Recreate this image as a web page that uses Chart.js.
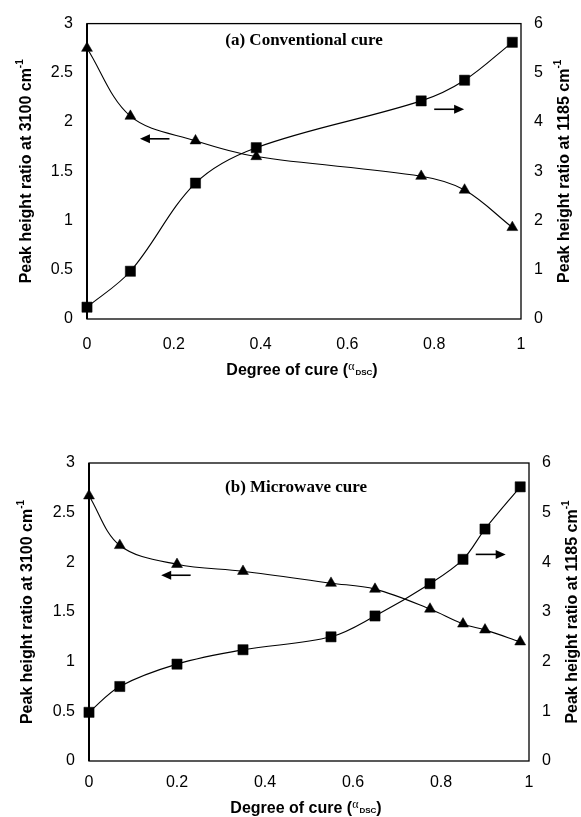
<!DOCTYPE html>
<html>
<head>
<meta charset="utf-8">
<script src="https://cdn.jsdelivr.net/npm/chart.js@4.4.1/dist/chart.umd.min.js"></script>
<style>
  body { margin: 0; background: #fff; width: 581px; height: 817px; position: relative; overflow: hidden; }
  canvas { position: absolute; left: 0; }
  #chartA { top: 0; }
  #chartB { top: 420px; }
</style>
</head>
<body>
<canvas id="chartA" width="581" height="385"></canvas>
<canvas id="chartB" width="581" height="397"></canvas>
<script>
// (a) conventional cure
const convCure = [0, 0.1, 0.25, 0.39, 0.77, 0.87, 0.98];
const convRatio3100 = [2.75, 2.06, 1.81, 1.65, 1.45, 1.31, 0.93];
const convRatio1185 = [0.24, 0.97, 2.76, 3.48, 4.43, 4.85, 5.62];

// (b) microwave cure
const mwCure = [0, 0.07, 0.2, 0.35, 0.55, 0.65, 0.775, 0.85, 0.9, 0.98];
const mwRatio3100 = [2.67, 2.17, 1.98, 1.91, 1.79, 1.73, 1.53, 1.38, 1.32, 1.2];
const mwRatio1185 = [0.98, 1.5, 1.95, 2.24, 2.5, 2.92, 3.57, 4.06, 4.67, 5.52];

// tick labels
const xTicks = [0, 0.2, 0.4, 0.6, 0.8, 1];
const leftTicks = [0, 0.5, 1, 1.5, 2, 2.5, 3];
const rightTicks = [0, 1, 2, 3, 4, 5, 6];

// arrows showing which axis a curve belongs to (data coords)
const convArrows = [
  { from: 0.19, to: 0.122, at: 1.83, axis: 'y' },
  { from: 0.80, to: 0.869, at: 4.26, axis: 'y2' }
];
const mwArrows = [
  { from: 0.231, to: 0.164, at: 1.87, axis: 'y' },
  { from: 0.879, to: 0.947, at: 4.16, axis: 'y2' }
];

const SANS = 'Liberation Sans, Arial, sans-serif';
const SERIF = 'Liberation Serif, Times New Roman, serif';

// draw a run of text pieces (for superscripts / subscripts) centred on x,y
function richText(ctx, parts, x, y, angle) {
  ctx.save();
  ctx.translate(x, y);
  ctx.rotate(angle || 0);
  ctx.textBaseline = 'alphabetic';
  ctx.textAlign = 'left';
  let total = 0;
  parts.forEach(p => { ctx.font = p.font; total += ctx.measureText(p.t).width + (p.gap || 0); });
  let cx = -total / 2;
  parts.forEach(p => {
    ctx.font = p.font;
    ctx.fillText(p.t, cx, 6 + (p.dy || 0));
    cx += ctx.measureText(p.t).width + (p.gap || 0);
  });
  ctx.restore();
}

const decor = {
  id: 'decor',
  beforeDatasetsDraw(chart, args, o) {
    const { ctx, chartArea: a } = chart;
    ctx.save();
    ctx.strokeStyle = '#000';
    ctx.lineWidth = 1.3;
    ctx.strokeRect(a.left, a.top, a.right - a.left, a.bottom - a.top);
    ctx.lineWidth = 2;
    ctx.beginPath();
    ctx.moveTo(a.left, a.top);
    ctx.lineTo(a.left, a.bottom);
    ctx.stroke();
    ctx.restore();
  },
  afterDraw(chart, args, o) {
    const { ctx, chartArea: a, scales } = chart;
    ctx.save();
    ctx.fillStyle = '#000';
    ctx.strokeStyle = '#000';

    // panel label
    ctx.font = 'bold 17px ' + SERIF;
    ctx.textAlign = 'center';
    ctx.textBaseline = 'middle';
    ctx.fillText(o.label, o.labelX, o.labelY);

    // arrows
    o.arrows.forEach(ar => {
      const x0 = scales.x.getPixelForValue(ar.from);
      const x1 = scales.x.getPixelForValue(ar.to);
      const y = scales[ar.axis].getPixelForValue(ar.at);
      const dir = Math.sign(x1 - x0);
      ctx.lineWidth = 1.6;
      ctx.beginPath();
      ctx.moveTo(x0, y);
      ctx.lineTo(x1 - dir * 8, y);
      ctx.stroke();
      ctx.beginPath();
      ctx.moveTo(x1, y);
      ctx.lineTo(x1 - dir * 10, y - 4.5);
      ctx.lineTo(x1 - dir * 10, y + 4.5);
      ctx.closePath();
      ctx.fill();
    });

    // axis titles
    const midY = (a.top + a.bottom) / 2;
    const bold16 = 'bold 16px ' + SANS;
    const sup = 'bold 10px ' + SANS;
    richText(ctx, [{ t: 'Peak height ratio at 3100 cm', font: bold16 }, { t: '-1', font: sup, dy: -8 }],
      o.leftTitleX, midY, -Math.PI / 2);
    richText(ctx, [{ t: 'Peak height ratio at 1185 cm', font: bold16 }, { t: '-1', font: sup, dy: -8 }],
      o.rightTitleX, midY, -Math.PI / 2);
    richText(ctx, [
      { t: 'Degree of cure (', font: bold16 },
      { t: 'α', font: '12px ' + SERIF, dy: -5, gap: 1 },
      { t: 'DSC', font: 'bold 8px ' + SANS },
      { t: ')', font: bold16 }
    ], o.xTitleX, o.xTitleY, 0);
    ctx.restore();
  }
};

function tickFont() { return { family: SANS, size: 16 }; }

function makeChart(id, cure, r3100, r1185, lay) {
  const pts = (xs, ys) => xs.map((x, i) => ({ x: x, y: ys[i] }));
  return new Chart(document.getElementById(id), {
    type: 'line',
    data: {
      datasets: [
        {
          label: '3100',
          data: pts(cure, r3100),
          yAxisID: 'y',
          borderColor: '#000',
          backgroundColor: '#000',
          borderWidth: 1.1,
          pointStyle: 'triangle',
          pointRadius: 6.3,
          pointBorderWidth: 0.5,
          tension: 0.35,
          clip: false
        },
        {
          label: '1185',
          data: pts(cure, r1185),
          yAxisID: 'y2',
          borderColor: '#000',
          backgroundColor: '#000',
          borderWidth: 1.1,
          pointStyle: 'rect',
          pointRadius: 7.2,
          pointBorderWidth: 0.5,
          tension: 0.35,
          clip: false
        }
      ]
    },
    options: {
      responsive: false,
      animation: false,
      events: [],
      layout: { padding: { top: lay.top, left: 0, right: 0, bottom: 0 } },
      plugins: {
        legend: { display: false },
        tooltip: { enabled: false },
        decor: lay.decor
      },
      scales: {
        x: {
          type: 'linear', min: 0, max: 1,
          afterBuildTicks: s => { s.ticks = xTicks.map(v => ({ value: v })); },
          afterFit: s => { s.height = lay.xHeight; },
          grid: { display: false, drawTicks: false },
          border: { display: false },
          ticks: { padding: lay.xPad, font: tickFont(), color: '#000', maxRotation: 0, autoSkip: false,
                   callback: v => String(v) }
        },
        y: {
          position: 'left', min: 0, max: 3,
          afterBuildTicks: s => { s.ticks = leftTicks.map(v => ({ value: v })); },
          afterFit: s => { s.width = lay.leftW; },
          grid: { display: false, drawTicks: false },
          border: { display: false },
          ticks: { padding: 14, font: tickFont(), color: '#000', callback: v => String(v) }
        },
        y2: {
          position: 'right', min: 0, max: 6,
          afterBuildTicks: s => { s.ticks = rightTicks.map(v => ({ value: v })); },
          afterFit: s => { s.width = lay.rightW; },
          grid: { display: false, drawTicks: false },
          border: { display: false },
          ticks: { padding: 13, font: tickFont(), color: '#000', callback: v => String(v) }
        }
      }
    },
    plugins: [decor]
  });
}

makeChart('chartA', convCure, convRatio3100, convRatio1185, {
  top: 20, xHeight: 66, xPad: 16, leftW: 87, rightW: 60,
  decor: { label: '(a) Conventional cure', labelX: 304, labelY: 41, arrows: convArrows,
           leftTitleX: 25, rightTitleX: 563, xTitleX: 302, xTitleY: 369 }
});

makeChart('chartB', mwCure, mwRatio3100, mwRatio1185, {
  top: 43, xHeight: 56, xPad: 12, leftW: 89, rightW: 52,
  decor: { label: '(b) Microwave cure', labelX: 296, labelY: 68, arrows: mwArrows,
           leftTitleX: 26, rightTitleX: 571, xTitleX: 306, xTitleY: 387 }
});
</script>
</body>
</html>
